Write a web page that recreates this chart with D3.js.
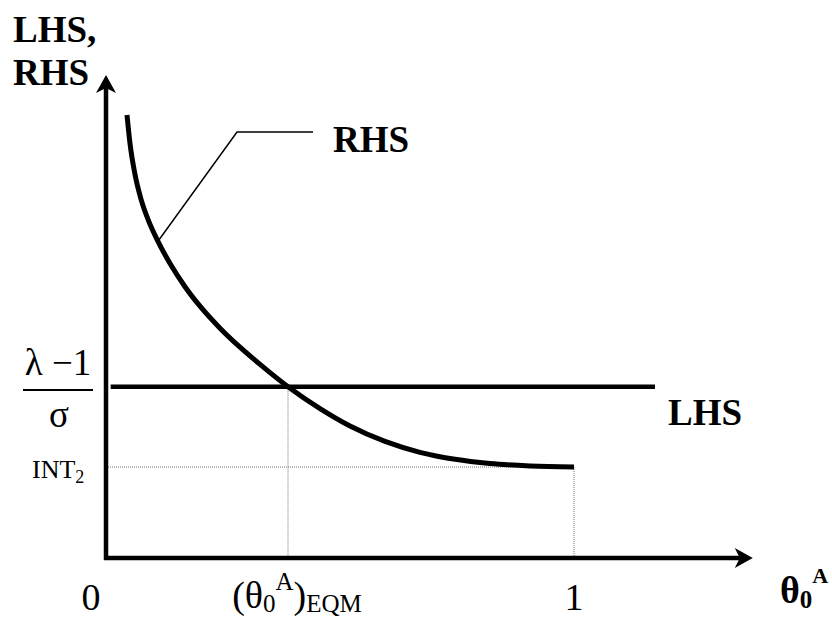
<!DOCTYPE html>
<html>
<head>
<meta charset="utf-8">
<script src="https://cdn.jsdelivr.net/npm/d3@7"></script>
<style>
  html, body { margin: 0; padding: 0; background: #fff; }
  svg { display: block; }
  text { font-family: "Liberation Serif", "Times New Roman", serif; fill: #000; }
</style>
</head>
<body>
<svg id="chart" width="832" height="623"></svg>
<script>
// ---- data ----
const thetaVals = [0.0449, 0.0513, 0.0620, 0.0748, 0.0919, 0.1111, 0.1368, 0.1688, 0.2009, 0.2436, 0.2863, 0.3291, 0.3889, 0.4573, 0.5214, 0.5962, 0.6709, 0.7457, 0.8205, 0.9060, 1.0];
const rhsVals   = [0.9172, 0.8582, 0.7940, 0.7431, 0.6959, 0.6557, 0.6097, 0.5617, 0.5213, 0.4758, 0.4364, 0.4008, 0.3545, 0.3093, 0.2733, 0.2414, 0.2188, 0.2043, 0.1957, 0.1907, 0.1884];
const lhsValue = 0.3545;
const lhsRange = [0.01, 1.173];
const int2Value = 0.1884;
const eqmTheta = 0.3889;
const xTickLabels = ["0", "1"];
const xTickVals = [0, 1];
const xAxisEnd = 1.382;
const yAxisEnd = 1.0;
const leaderTheta = 0.1111;

// ---- scales ----
const svg = d3.select("#chart");
const x = d3.scaleLinear().domain([0, 1]).range([106, 574]);
const y = d3.scaleLinear().domain([0, 1]).range([558, 75]);

// dotted guides
const guides = svg.append("g").attr("stroke", "#777").attr("stroke-width", 1).attr("stroke-dasharray", "1,1").attr("fill", "none");
guides.append("line").attr("x1", x(0)).attr("x2", x(1)).attr("y1", y(int2Value)).attr("y2", y(int2Value));
guides.append("line").attr("x1", x(1)).attr("x2", x(1)).attr("y1", y(int2Value)).attr("y2", y(0));
guides.append("line").attr("x1", x(eqmTheta)).attr("x2", x(eqmTheta)).attr("y1", y(lhsValue)).attr("y2", y(0));

// axes
const axes = svg.append("g").attr("stroke", "#000").attr("stroke-width", 4.5).attr("fill", "none");
axes.append("line").attr("x1", x(0)).attr("x2", x(0)).attr("y1", y(0) + 2).attr("y2", y(yAxisEnd) + 8);
axes.append("line").attr("x1", x(0) - 2).attr("x2", x(xAxisEnd) - 8).attr("y1", y(0)).attr("y2", y(0));
// arrowheads
const ax = x(0), ay = y(yAxisEnd);
svg.append("path").attr("fill", "#000")
  .attr("d", `M${ax},${ay} L${ax + 10},${ay + 18} L${ax},${ay + 13} L${ax - 10},${ay + 18} Z`);
const bx = x(xAxisEnd), by = y(0);
svg.append("path").attr("fill", "#000")
  .attr("d", `M${bx},${by} L${bx - 18},${by - 10} L${bx - 13},${by} L${bx - 18},${by + 10} Z`);

// LHS line
svg.append("line").attr("stroke", "#000").attr("stroke-width", 4.5)
  .attr("x1", x(lhsRange[0])).attr("x2", x(lhsRange[1]))
  .attr("y1", y(lhsValue)).attr("y2", y(lhsValue));

// RHS curve
const pts = thetaVals.map((t, i) => [t, rhsVals[i]]);
svg.append("path").datum(pts)
  .attr("fill", "none").attr("stroke", "#000").attr("stroke-width", 5)
  .attr("d", d3.line().x(d => x(d[0])).y(d => y(d[1])).curve(d3.curveMonotoneX));

// leader line for RHS label
const li = thetaVals.indexOf(leaderTheta);
svg.append("polyline").attr("fill", "none").attr("stroke", "#000").attr("stroke-width", 1.5)
  .attr("points", `${x(leaderTheta)},${y(rhsVals[li])} 237,132 313,132`);

// labels
svg.append("text").attr("x", 333).attr("y", 152).attr("font-size", 37).attr("font-weight", "bold").text("RHS");
svg.append("text").attr("x", 668).attr("y", 425).attr("font-size", 37).attr("font-weight", "bold").text("LHS");
svg.append("text").attr("x", 13).attr("y", 42).attr("font-size", 37).attr("font-weight", "bold").text("LHS,");
svg.append("text").attr("x", 13).attr("y", 85).attr("font-size", 37).attr("font-weight", "bold").text("RHS");

// fraction
svg.append("text").attr("x", 58).attr("y", 375).attr("font-size", 37).attr("text-anchor", "middle").text("λ −1");
svg.append("line").attr("x1", 23).attr("x2", 93).attr("y1", 390).attr("y2", 390).attr("stroke", "#000").attr("stroke-width", 2);
svg.append("text").attr("x", 59).attr("y", 427).attr("font-size", 37).attr("text-anchor", "middle").text("σ");

// INT2
const intT = svg.append("text").attr("x", 32).attr("y", 478).attr("font-size", 26);
intT.append("tspan").text("INT");
intT.append("tspan").attr("font-size", 18).attr("dy", 5).text("2");

// x tick labels
svg.selectAll(".xtick").data(xTickVals).enter().append("text")
  .attr("x", (d, i) => i === 0 ? x(d) - 15 : x(d))
  .attr("y", 610).attr("font-size", 38).attr("text-anchor", "middle")
  .text((d, i) => xTickLabels[i]);

// (θ0A)EQM
const eq = svg.append("text").attr("x", x(eqmTheta) + 9).attr("y", 608).attr("font-size", 38).attr("text-anchor", "middle");
eq.append("tspan").text("(θ");
eq.append("tspan").attr("font-size", 25).attr("dy", 4).text("0");
eq.append("tspan").attr("font-size", 25).attr("dy", -22).text("A");
eq.append("tspan").attr("dy", 18).text(")");
eq.append("tspan").attr("font-size", 25).attr("dy", 4).text("EQM");

// θ0A axis title
const tt = svg.append("text").attr("x", 780).attr("y", 603).attr("font-size", 38).attr("font-weight", "bold");
tt.append("tspan").text("θ");
tt.append("tspan").attr("font-size", 25).attr("dy", 5).text("0");
tt.append("tspan").attr("font-size", 22).attr("dy", -25).text("A");
</script>
</body>
</html>
